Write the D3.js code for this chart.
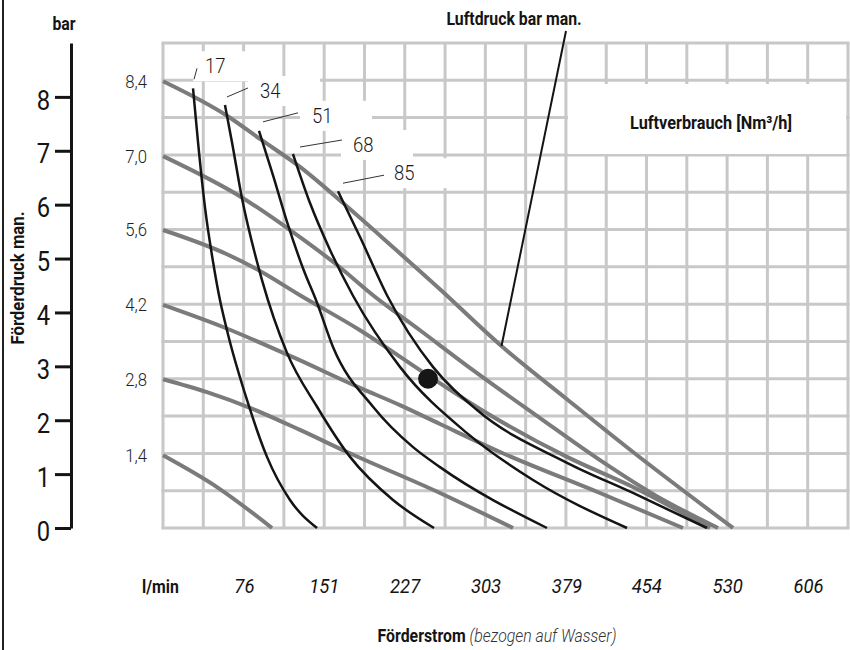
<!DOCTYPE html>
<html><head><meta charset="utf-8">
<script src="https://cdn.jsdelivr.net/npm/d3@7"></script>
<style>
body{margin:0;background:#fff}
svg{display:block}
text{font-family:Roboto,"Noto Sans",sans-serif}
</style>
</head><body>
<svg id="c" width="850" height="650"></svg>
<script>
// ---------------- DATA ----------------
// x: Förderstrom in l/min, y: Förderdruck in bar
const flowTicks = [76, 151, 227, 303, 379, 454, 530, 606];
const pressureTicks = [0, 1, 2, 3, 4, 5, 6, 7, 8];
const flowMax = 643.5;          // 17 grid columns (10 US gpm each)
const pressureMax = 9;          // 13 grid rows (10 psi each)
const gridColumns = 17;
const gridRows = 13;

// air pressure curves (Luftdruck bar man.)
const airPressureLabels = ["8,4", "7,0", "5,6", "4,2", "2,8", "1,4"];
const air84 = [[0,8.29],[60.1,7.65],[91.1,7.22],[128.7,6.70],[169.1,6.03],[216.1,5.21],[260.2,4.43],[316.6,3.40],[379.5,2.39],[441.5,1.41],[535.5,0]];
const air70 = [[0,6.90],[75.2,6.12],[122.1,5.49],[163.5,4.88],[197.3,4.32],[241.4,3.67],[291.2,2.93],[354.2,2.04],[410.5,1.26],[462.2,0.61],[521.4,0]];
const air56 = [[0,5.53],[60.1,5.08],[91.1,4.77],[128.7,4.32],[185.1,3.67],[241.4,2.93],[304.4,2.13],[379.5,1.32],[441.5,0.76],[513.9,0]];
const air42 = [[0,4.14],[56.4,3.73],[122.1,3.17],[185.1,2.60],[222.6,2.28],[260.2,1.93],[316.6,1.41],[410.5,0.65],[488.5,0]];
const air28 = [[0,2.76],[41.3,2.52],[81.7,2.23],[128.7,1.82],[172.9,1.41],[260.2,0.65],[328.8,0]];
const air14 = [[0,1.35],[50.7,0.76],[102.4,0]];

// air consumption curves (Luftverbrauch Nm³/h)
const consumptionLabels = ["17", "34", "51", "68", "85"];
const cons17 = [[28.2,8.16],[32.9,7.16],[39.5,5.94],[47.0,4.94],[52.6,4.32],[60.1,3.67],[79.8,2.32],[97.7,1.32],[119.3,0.52],[144.7,0]];
const cons34 = [[58.2,7.85],[64.8,7.16],[74.2,6.12],[88.3,4.94],[93.0,4.60],[116.5,3.25],[144.7,2.25],[175.7,1.32],[216.1,0.52],[254.6,0]];
const cons51 = [[90.2,7.37],[103.3,6.55],[116.5,5.68],[131.5,4.82],[144.7,4.18],[159.7,3.36],[197.3,2.25],[234.9,1.50],[260.2,1.13],[360.7,0]];
const cons68 = [[122.1,6.94],[138.1,6.03],[156.9,5.16],[178.5,4.31],[222.6,2.99],[285.6,1.76],[347.6,0.89],[435.9,0]];
const cons85 = [[164.4,6.25],[185.1,5.40],[210.4,4.32],[253.6,2.99],[295.0,2.19],[379.5,1.21],[441.5,0.65],[511.0,0]];

const operatingPoint = [249, 2.77];
const titlePointerFlow = 318;

// ---------------- LAYOUT ----------------
const svg = d3.select('#c');
const x = d3.scaleLinear().domain([0, flowMax]).range([163, 848]);
const y = d3.scaleLinear().domain([0, pressureMax]).range([528, 43]);

const GRID = '#c8c8c8', GRAYC = '#7b7b7b', INK = '#141414';
const SX = 0.88;

function label(g, px, py, str, o) {
  return g.append('text')
    .attr('transform', `translate(${px},${py}) scale(${o.sx || SX},1)`)
    .attr('text-anchor', o.anchor || 'start')
    .style('font-size', o.size + 'px')
    .style('font-weight', o.weight || 400)
    .style('font-style', o.style || 'normal')
    .attr('fill', o.fill || INK)
    .text(str);
}

// left page rule
svg.append('line').attr('x1', 3).attr('x2', 3).attr('y1', 0).attr('y2', 650)
  .attr('stroke', '#222').attr('stroke-width', 2);

// grid
const grid = svg.append('g');
const gx = d3.range(gridColumns + 1).map(k => k * flowMax / gridColumns);
const gy = d3.range(gridRows + 1).map(k => k * pressureMax / gridRows);
grid.selectAll('line.v').data(gx).join('line').attr('class', 'v')
  .attr('x1', d => x(d)).attr('x2', d => x(d)).attr('y1', y(pressureMax)).attr('y2', y(0))
  .attr('stroke', GRID).attr('stroke-width', 3);
grid.selectAll('line.h').data(gy).join('line').attr('class', 'h')
  .attr('y1', d => y(d)).attr('y2', d => y(d)).attr('x1', x(0) - 1.5).attr('x2', x(flowMax) + 1.5)
  .attr('stroke', GRID).attr('stroke-width', 3);

// white box for Luftverbrauch title
svg.append('rect').attr('x', 568).attr('y', 84).attr('width', 278).attr('height', 70).attr('fill', '#fff');

const line = d3.line().x(d => x(d[0])).y(d => y(d[1])).curve(d3.curveMonotoneX);

// consumption label layout (pixel offsets from the curve's top point)
const consLayout = [
  {t:[12,-15], l1:[1,-9],  l2:[4,-20]},
  {t:[35,-7],  l1:[2,-8],  l2:[23,-17]},
  {t:[53,-8],  l1:[4,-9],  l2:[39,-18]},
  {t:[60,-2],  l1:[7,-7],  l2:[49,-14]},
  {t:[56,-11], l1:[5,-8],  l2:[46,-16]}
];
const consSeries = [cons17, cons34, cons51, cons68, cons85];

// white backgrounds behind consumption labels
consSeries.forEach((s, i) => {
  const px = x(s[0][0]) + consLayout[i].t[0], py = y(s[0][1]) + consLayout[i].t[1];
  svg.append('rect').attr('x', px - 12).attr('y', py - 22).attr('width', 72).attr('height', 30).attr('fill', '#fff');
});

// air pressure curves
const airSeries = [air84, air70, air56, air42, air28, air14];
svg.append('g').selectAll('path').data(airSeries).join('path')
  .attr('d', line).attr('fill', 'none').attr('stroke', GRAYC).attr('stroke-width', 4);

// consumption curves
svg.append('g').selectAll('path').data(consSeries).join('path')
  .attr('d', line).attr('fill', 'none').attr('stroke', INK).attr('stroke-width', 2.5);

// operating point
svg.append('circle').attr('cx', x(operatingPoint[0])).attr('cy', y(operatingPoint[1])).attr('r', 10).attr('fill', '#161616');

// consumption labels + leaders
consSeries.forEach((s, i) => {
  const ox = x(s[0][0]), oy = y(s[0][1]), L = consLayout[i];
  svg.append('line').attr('x1', ox + L.l1[0]).attr('y1', oy + L.l1[1]).attr('x2', ox + L.l2[0]).attr('y2', oy + L.l2[1])
    .attr('stroke', '#333').attr('stroke-width', 1);
  label(svg, ox + L.t[0], oy + L.t[1], consumptionLabels[i], {size: 21, weight: 300, fill: '#1a1a1a'});
});

// air pressure labels at curve starts
airSeries.forEach((s, i) => {
  label(svg, 147, y(s[0][1]) + 6.5, airPressureLabels[i], {size: 19, weight: 300, anchor: 'end', fill: '#222'});
});

// title pointer
const interp = (s, f) => { for (let i = 1; i < s.length; i++) { if (f <= s[i][0]) { const a = s[i-1], b = s[i]; return a[1] + (b[1]-a[1])*(f-a[0])/(b[0]-a[0]); } } return 0; };
svg.append('line').attr('x1', 566).attr('y1', 31).attr('x2', x(titlePointerFlow)).attr('y2', y(interp(air84, titlePointerFlow)))
  .attr('stroke', INK).attr('stroke-width', 2);
label(svg, 514, 25, 'Luftdruck bar man.', {size: 18, weight: 700, anchor: 'middle'});
label(svg, 711, 129, 'Luftverbrauch [Nm³/h]', {size: 18.5, weight: 700, anchor: 'middle'});

// left pressure axis
const ya = svg.append('g').attr('transform', 'translate(71,0)')
  .call(d3.axisLeft(y).tickValues(pressureTicks).tickSize(16).tickSizeOuter(0).tickPadding(5).tickFormat(d3.format('d')));
ya.select('.domain').attr('stroke', INK).attr('stroke-width', 3);
ya.selectAll('.tick line').attr('stroke', INK).attr('stroke-width', 3);
ya.selectAll('.tick text').attr('x', -21 / SX).attr('dy', '0.45em').attr('transform', `scale(${SX},1)`)
  .style('font-size', '27px').style('font-family', 'Roboto, sans-serif').attr('fill', INK);
label(svg, 64, 30, 'bar', {size: 18, weight: 700, anchor: 'middle'});

// y title
svg.append('text').attr('transform', `translate(24,278) rotate(-90) scale(${SX},1)`)
  .attr('text-anchor', 'middle').style('font-size', '19px').style('font-weight', 700).attr('fill', INK)
  .text('Förderdruck man.');

// bottom flow labels
const xa = svg.append('g').attr('transform', 'translate(0,593)')
  .call(d3.axisBottom(x).tickValues(flowTicks).tickSize(0).tickPadding(0).tickFormat(d3.format('d')));
xa.select('.domain').remove();
xa.selectAll('.tick text').attr('y', 0).attr('dy', 0).attr('transform', `scale(${SX},1)`)
  .style('font-size', '21px').style('font-style', 'italic').style('font-weight', 400)
  .style('font-family', 'Roboto, sans-serif').attr('fill', '#141414');
label(svg, 142, 593, 'l/min', {size: 18, weight: 700});

// x title
const xt = svg.append('text').attr('transform', `translate(497,642) scale(${SX},1)`)
  .attr('text-anchor', 'middle').style('font-size', '18px').attr('fill', INK);
xt.append('tspan').style('font-weight', 700).text('Förderstrom');
xt.append('tspan').style('font-weight', 300).style('font-style', 'italic').attr('fill', '#333').text(' (bezogen auf Wasser)');
</script>
</body></html>
